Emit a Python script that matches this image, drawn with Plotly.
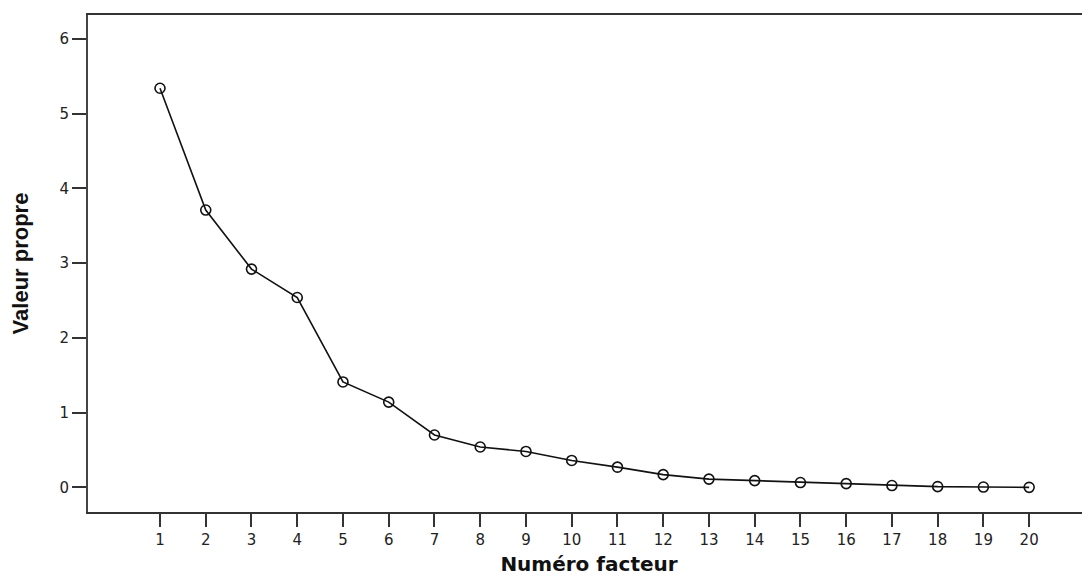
import plotly.graph_objects as go

factors = list(range(1, 21))
eigenvalues = [5.34, 3.71, 2.92, 2.54, 1.41, 1.14, 0.70, 0.54, 0.48, 0.36,
               0.27, 0.17, 0.11, 0.09, 0.064, 0.05, 0.024, 0.01, 0.004, 0.0]
y_ticks = [0, 1, 2, 3, 4, 5, 6]

fig = go.Figure()
fig.add_trace(go.Scatter(
    x=factors, y=eigenvalues, mode="lines+markers",
    line=dict(color="#111111", width=1.6),
    marker=dict(symbol="circle-open", size=10, color="#111111", line=dict(width=1.6)),
    showlegend=False,
))

# page has an 8px body margin, so figure is sized to end exactly at the window edge
fig.update_layout(
    width=1082, height=569,
    margin=dict(l=80, r=0, t=7, b=65),
    paper_bgcolor="white", plot_bgcolor="white",
    font=dict(family="DejaVu Sans, Verdana, sans-serif", color="#222222"),
)
fig.update_xaxes(
    range=[-0.574, 21.33], tickvals=factors, ticktext=[str(f) for f in factors],
    showgrid=False, zeroline=False,
    showline=True, linecolor="#333333", linewidth=1.5, mirror=True,
    ticks="outside", ticklen=13, tickwidth=2, tickcolor="#333333",
    tickfont=dict(size=15, family="DejaVu Sans, Verdana, sans-serif", color="#222222"),
    title=dict(text="Numéro facteur", standoff=9,
               font=dict(size=20, family="DejaVu Sans, Verdana, sans-serif", weight="bold", color="#111111")),
)
fig.update_yaxes(
    range=[-0.33, 6.32], tickvals=y_ticks, ticktext=[str(v) for v in y_ticks],
    showgrid=False, zeroline=False,
    showline=True, linecolor="#444444", linewidth=2,
    ticks="outside", ticklen=14, tickwidth=2, tickcolor="#333333",
    tickfont=dict(size=15, family="DejaVu Sans, Verdana, sans-serif", color="#222222"),
    title=dict(text="Valeur propre", standoff=26,
               font=dict(size=22, family="Liberation Sans Narrow, Arial Narrow, Liberation Sans, sans-serif", weight="bold", color="#111111")),
)

fig.write_html("out.html")
